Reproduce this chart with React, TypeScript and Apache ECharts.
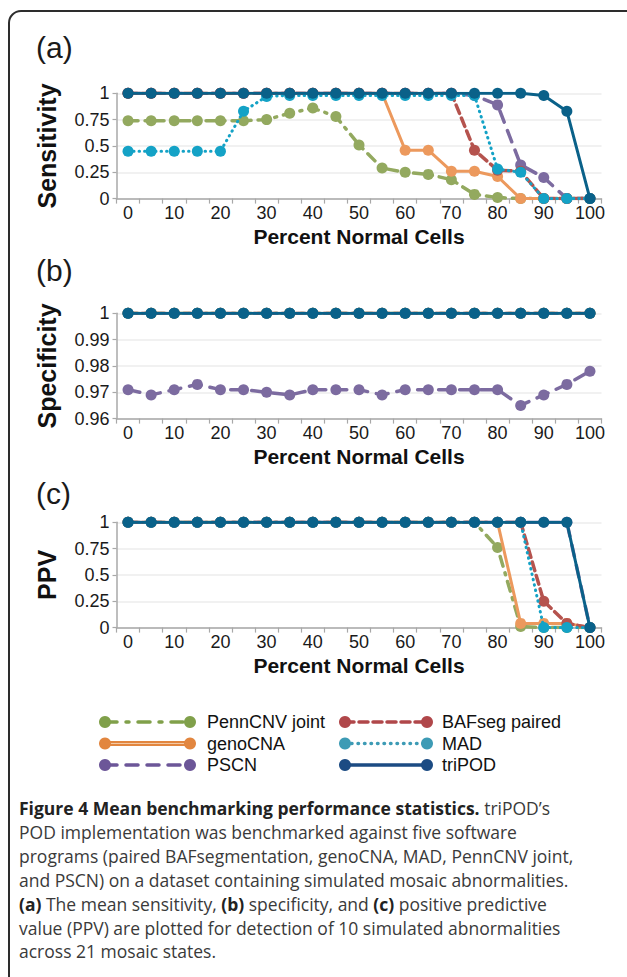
import React, { useEffect, useRef } from 'react';
import * as echarts from 'echarts';

// ---------- data ----------
const percentNormal = ['0', '5', '10', '15', '20', '25', '30', '35', '40', '45', '50', '55', '60', '65', '70', '75', '80', '85', '90', '95', '100'];

const seriesNames = ['PennCNV joint', 'genoCNA', 'PSCN', 'BAFseg paired', 'MAD', 'triPOD'];

// Sensitivity (a)
const pennSens = [0.74, 0.74, 0.74, 0.74, 0.74, 0.74, 0.75, 0.81, 0.86, 0.78, 0.51, 0.29, 0.25, 0.23, 0.18, 0.04, 0.01, 0, 0, 0, 0];
const genoSens = [1, 1, 1, 1, 1, 1, 1, 1, 1, 1, 1, 1, 0.46, 0.46, 0.26, 0.26, 0.21, 0, 0, 0, 0];
const pscnSens = [1, 1, 1, 1, 1, 1, 1, 1, 1, 1, 1, 1, 1, 1, 1, 0.98, 0.89, 0.32, 0.2, 0, 0];
const bafSens = [1, 1, 1, 1, 1, 1, 1, 1, 1, 1, 1, 1, 1, 1, 1, 0.46, 0.27, 0.26, 0, 0, 0];
const madSens = [0.45, 0.45, 0.45, 0.45, 0.45, 0.83, 0.97, 0.98, 0.98, 0.98, 0.98, 0.98, 0.98, 0.98, 0.98, 0.98, 0.28, 0.25, 0, 0, 0];
const triSens = [1, 1, 1, 1, 1, 1, 1, 1, 1, 1, 1, 1, 1, 1, 1, 1, 1, 1, 0.98, 0.83, 0];

// Specificity (b)
const pennSpec = [1, 1, 1, 1, 1, 1, 1, 1, 1, 1, 1, 1, 1, 1, 1, 1, 1, 1, 1, 1, 1];
const genoSpec = [1, 1, 1, 1, 1, 1, 1, 1, 1, 1, 1, 1, 1, 1, 1, 1, 1, 1, 1, 1, 1];
const pscnSpec = [0.971, 0.969, 0.971, 0.973, 0.971, 0.971, 0.970, 0.969, 0.971, 0.971, 0.971, 0.969, 0.971, 0.971, 0.971, 0.971, 0.971, 0.965, 0.969, 0.973, 0.978];
const bafSpec = [1, 1, 1, 1, 1, 1, 1, 1, 1, 1, 1, 1, 1, 1, 1, 1, 1, 1, 1, 1, 1];
const madSpec = [1, 1, 1, 1, 1, 1, 1, 1, 1, 1, 1, 1, 1, 1, 1, 1, 1, 1, 1, 1, 1];
const triSpec = [1, 1, 1, 1, 1, 1, 1, 1, 1, 1, 1, 1, 1, 1, 1, 1, 1, 1, 1, 1, 1];

// PPV (c)
const pennPPV = [1, 1, 1, 1, 1, 1, 1, 1, 1, 1, 1, 1, 1, 1, 1, 1, 0.76, 0.01, 0, 0, 0];
const genoPPV = [1, 1, 1, 1, 1, 1, 1, 1, 1, 1, 1, 1, 1, 1, 1, 1, 1, 0.04, 0.04, 0.04, 0];
const pscnPPV = [1, 1, 1, 1, 1, 1, 1, 1, 1, 1, 1, 1, 1, 1, 1, 1, 1, 1, 1, 1, 0];
const bafPPV = [1, 1, 1, 1, 1, 1, 1, 1, 1, 1, 1, 1, 1, 1, 1, 1, 1, 1, 0.25, 0.04, 0];
const madPPV = [1, 1, 1, 1, 1, 1, 1, 1, 1, 1, 1, 1, 1, 1, 1, 1, 1, 1, 0, 0, 0];
const triPPV = [1, 1, 1, 1, 1, 1, 1, 1, 1, 1, 1, 1, 1, 1, 1, 1, 1, 1, 1, 1, 0];

const panelData = [
  [pennSens, genoSens, pscnSens, bafSens, madSens, triSens],
  [pennSpec, genoSpec, pscnSpec, bafSpec, madSpec, triSpec],
  [pennPPV, genoPPV, pscnPPV, bafPPV, madPPV, triPPV],
];

const panelTitles = ['Sensitivity', 'Specificity', 'PPV'];
const panelLetters = ['(a)', '(b)', '(c)'];
const yMins = [0, 0.96, 0];
const yIntervals = [0.25, 0.01, 0.25];

const captionLines = [
  '{b|Figure 4 Mean benchmarking performance statistics.} triPOD’s',
  'POD implementation was benchmarked against five software',
  'programs (paired BAFsegmentation, genoCNA, MAD, PennCNV joint,',
  'and PSCN) on a dataset containing simulated mosaic abnormalities.',
  '{b|(a)} The mean sensitivity, {b|(b)} specificity, and {b|(c)} positive predictive',
  'value (PPV) are plotted for detection of 10 simulated abnormalities',
  'across 21 mosaic states.',
];

// ---------- styles ----------
const plotColors = ['#93a95f', '#ec995d', '#7c6ba0', '#b5534e', '#14a2c6', '#0a6189'];
const legendColors = ['#80a04a', '#e2863f', '#6c5698', '#b0474a', '#3d9bb5', '#1c4b83'];
const dashTypes: any[] = [[10, 7, 2, 7], 'solid', [12, 9], [9, 5], [0.5, 5], 'solid'];
const lineWidths = [3.5, 3, 3.5, 3.5, 3, 3];
const legendDash: any[] = [[12, 9, 3, 9], null, [12, 9], [9, 5], [0.5, 6], null];

const FONT = 'Liberation Sans, Arial, Helvetica, sans-serif';
const CAP_FONT = 'Open Sans, sans-serif';
const CAP_SIZE = 17.5;
const gridTops = [93.3, 313.3, 522.3];
const gridHeight = 105.3;
const gridLeft = 116.5;
const gridWidth = 485;
const axisGray = '#a8a8a8';

function buildOption() {
  const grid = gridTops.map((t) => ({ left: gridLeft, top: t, width: gridWidth, height: gridHeight }));
  const xAxis = gridTops.map((_, i) => ({
    type: 'category',
    gridIndex: i,
    data: percentNormal,
    boundaryGap: true,
    axisLine: { show: true, lineStyle: { color: axisGray, width: 1.5 } },
    axisTick: { show: true, interval: 0, length: 5, lineStyle: { color: axisGray, width: 1.2 } },
    axisLabel: { interval: 1, color: '#1a1a1a', fontSize: 18, fontFamily: FONT, margin: 5 },
    name: 'Percent Normal Cells',
    nameLocation: 'middle',
    nameGap: 27,
    nameTextStyle: { fontSize: 21, fontWeight: 'bold', fontFamily: FONT, color: '#111' },
  }));
  const yAxis = gridTops.map((_, i) => ({
    type: 'value',
    gridIndex: i,
    min: yMins[i],
    max: 1,
    interval: yIntervals[i],
    axisLine: { show: true, lineStyle: { color: axisGray, width: 1.5 } },
    axisTick: { show: true, length: 4, lineStyle: { color: axisGray, width: 1.2 } },
    axisLabel: { color: '#1a1a1a', fontSize: 18, fontFamily: FONT, margin: 7 },
    splitLine: { show: true, lineStyle: { color: '#ececec', width: 1.5 } },
    name: panelTitles[i],
    nameLocation: 'middle',
    nameRotate: 90,
    nameGap: 57,
    nameTextStyle: { fontSize: 25, fontWeight: 'bold', fontFamily: FONT, color: '#111' },
  }));

  const series: any[] = [];
  panelData.forEach((group, p) => {
    group.forEach((values, s) => {
      series.push({
        type: 'line',
        name: seriesNames[s],
        xAxisIndex: p,
        yAxisIndex: p,
        data: values,
        symbol: 'circle',
        symbolSize: 11,
        showSymbol: true,
        showAllSymbol: true,
        silent: true,
        z: 2 + s,
        lineStyle: { color: plotColors[s], width: lineWidths[s], type: dashTypes[s], cap: 'round' },
        itemStyle: { color: plotColors[s] },
      });
    });
  });

  const graphic: any[] = [];
  // frame
  graphic.push({
    type: 'rect',
    shape: { x: 9, y: 11, width: 640, height: 1000, r: 12 },
    style: { fill: 'none', stroke: '#2d2d2d', lineWidth: 2 },
    silent: true,
  });
  // panel letters
  const letterY = [47, 270, 493];
  panelLetters.forEach((t, i) => {
    graphic.push({
      type: 'text',
      x: 36,
      y: letterY[i],
      style: { text: t, fontSize: 30, fontFamily: FONT, fill: '#1a1a1a', verticalAlign: 'middle', textAlign: 'left' },
    });
  });
  // legend
  const legendRows = [722, 743.5, 765];
  const legendCols = [
    { x1: 105, x2: 190, tx: 207 },
    { x1: 345, x2: 427, tx: 442 },
  ];
  seriesNames.forEach((name, i) => {
    const col = legendCols[i < 3 ? 0 : 1];
    const y = legendRows[i % 3];
    const c = legendColors[i];
    graphic.push({
      type: 'line',
      shape: { x1: col.x1, y1: y, x2: col.x2, y2: y },
      style: { stroke: c, lineWidth: i === 1 ? 5 : 3.5, lineDash: legendDash[i] || undefined, lineCap: 'round' },
      silent: true,
    });
    if (i === 1) {
      graphic.push({
        type: 'line',
        shape: { x1: col.x1, y1: y, x2: col.x2, y2: y },
        style: { stroke: '#f4c9a4', lineWidth: 1.2 },
        silent: true,
      });
    }
    [col.x1, col.x2].forEach((cx) => {
      graphic.push({ type: 'circle', shape: { cx, cy: y, r: 6 }, style: { fill: c }, silent: true });
    });
    graphic.push({
      type: 'text',
      x: col.tx,
      y,
      style: { text: name, fontSize: 18, fontFamily: FONT, fill: '#111', verticalAlign: 'middle', textAlign: 'left' },
    });
  });
  // caption
  const capY = [808, 832, 856, 880, 904, 928, 951];
  captionLines.forEach((line, i) => {
    graphic.push({
      type: 'text',
      x: 19,
      y: capY[i],
      style: {
        text: line,
        fontSize: CAP_SIZE,
        fontFamily: CAP_FONT,
        fill: '#3a3a3a',
        verticalAlign: 'middle',
        textAlign: 'left',
        rich: {
          b: { fontSize: CAP_SIZE, fontFamily: CAP_FONT, fontWeight: 'bold', fill: '#222' },
        },
      },
    });
  });

  return {
    animation: false,
    backgroundColor: '#ffffff',
    grid,
    xAxis,
    yAxis,
    series,
    graphic,
  };
}

export default function App() {
  const ref = useRef<HTMLDivElement>(null);
  useEffect(() => {
    document.body.style.margin = '0';
    const chart = echarts.init(ref.current as HTMLDivElement, null, { renderer: 'svg' });
    chart.setOption(buildOption() as any);
    return () => chart.dispose();
  }, []);
  return <div ref={ref} style={{ width: 627, height: 977 }} />;
}
